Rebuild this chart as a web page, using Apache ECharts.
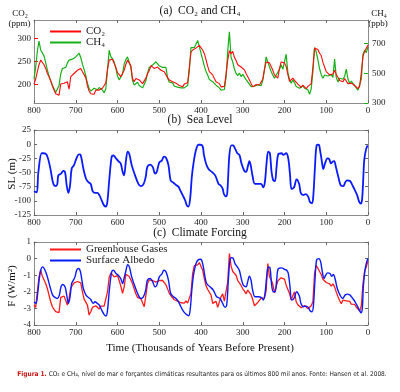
<!DOCTYPE html>
<html><head><meta charset="utf-8">
<script src="https://cdn.jsdelivr.net/npm/echarts@6/dist/echarts.min.js"></script>
<style>html,body{margin:0;padding:0;background:#fff}#c{width:400px;height:392px}</style>
</head><body><div id="c"></div>
<script>
// ---------- data ----------
const xTicks = [800,700,600,500,400,300,200,100,0];
const co2Ticks = [200,250,300];
const ch4Ticks = [300,500,700];
// noisy records sampled every 4 kyr, from 800 kyr BP to present
const ageGrid = [];
for (let a = 800; a >= 0; a -= 4) ageGrid.push(a);

const co2 = [201,212,228,243,253,251,243,235,224,217,
208,197,188,180,177,177,201,197,203,202,
206,190,217,220,224,228,231,235,235,228,
225,215,197,186,180,177,179,188,188,188,
192,192,193,204,233,253,256,255,246,237,
226,230,217,219,231,244,253,254,241,213,
206,213,214,210,206,202,206,214,224,230,
241,239,235,239,238,235,231,230,228,228,
215,210,206,206,204,203,201,198,197,195,
201,202,204,237,270,275,275,279,282,285,
286,275,267,254,240,228,229,221,213,206,
207,202,195,191,196,222,253,273,267,272,
259,252,243,243,238,240,232,224,220,210,
202,195,196,200,204,199,200,212,233,249,
246,247,239,231,221,225,214,235,249,246,
247,239,222,207,210,214,209,205,201,198,
194,199,198,191,196,194,202,237,279,276,
276,268,263,248,238,228,229,221,225,223,
231,222,216,209,210,206,213,209,202,198,
203,202,198,194,191,196,226,262,272,279,
286];

const ch4 = [462,540,651,718,658,647,618,573,522,482,
451,420,396,371,371,418,496,533,540,540,
571,589,602,596,596,611,611,636,607,562,
527,484,433,398,380,380,400,398,389,404,
407,387,369,396,518,656,613,598,576,536,
482,456,462,496,562,593,611,611,540,451,
422,433,440,418,407,402,411,451,502,540,
547,556,569,578,584,551,549,540,544,540,
469,440,438,436,413,411,407,400,402,402,
402,402,418,518,673,678,673,696,722,713,
636,593,549,513,489,458,460,444,431,420,
427,402,387,376,391,473,650,780,607,578,
529,500,484,502,478,493,487,458,442,431,
411,398,413,409,424,411,416,453,524,611,
576,544,513,489,467,489,478,527,558,527,
536,629,507,460,433,456,436,411,416,400,
404,416,400,404,389,358,396,513,673,644,
593,531,491,467,489,478,482,476,491,473,
596,473,442,467,456,460,480,529,462,433,
447,433,420,402,387,393,462,629,656,640,
678];

const ghg = [-2.8,-2.94,-2.0,-1.1,-0.7,-1.06,-1.1,-1.5,-1.8,-2.2,
-2.6,-2.9,-3.06,-3.2,-3.3,-3.26,-2.34,-2.3,-2.26,-2.34,
-2.8,-2.4,-1.76,-1.62,-1.46,-1.36,-1.38,-1.42,-1.46,-2.0,
-2.44,-2.54,-2.8,-3.4,-3.2,-2.94,-3.06,-2.84,-2.94,-3.04,
-2.86,-2.9,-2.86,-2.76,-2.0,-1.14,-0.86,-0.88,-1.1,-1.14,
-1.02,-1.32,-1.66,-2.1,-1.7,-0.94,-0.88,-1.08,-1.28,-1.52,
-1.82,-2.12,-2.34,-2.36,-2.42,-2.38,-2.9,-2.2,-1.5,-1.28,
-1.32,-1.32,-1.32,-1.42,-1.34,-1.32,-1.28,-1.32,-1.4,-1.58,
-1.64,-2.08,-2.24,-2.36,-2.48,-2.54,-2.56,-2.58,-2.66,-2.7,
-2.68,-2.54,-2.68,-2.72,-2.08,-0.9,-0.42,-0.38,-0.38,-0.24,
-0.2,-0.7,-1.2,-1.64,-1.86,-1.96,-2.18,-2.7,-2.6,-2.58,
-2.94,-2.92,-2.3,-2.12,-2.56,-2.62,-1.4,0.3,-0.44,-0.78,
-0.78,-1.0,-1.32,-1.46,-1.62,-1.82,-1.96,-2.12,-1.9,-1.88,
-2.18,-2.48,-2.84,-2.82,-2.64,-2.54,-2.38,-2.42,-2.38,-1.94,
-0.3,-1.1,-1.26,-1.54,-2.06,-1.94,-1.34,-1.28,-1.16,-1.18,
-1.24,-1.6,-1.5,-2.1,-2.48,-2.4,-2.0,-2.6,-2.78,-2.8,
-2.96,-2.92,-2.82,-2.82,-3.02,-2.92,-2.84,-2.6,-0.9,-0.4,
-0.58,-0.78,-0.96,-1.24,-1.32,-1.44,-1.48,-1.52,-1.66,-1.52,
-1.7,-2.02,-2.28,-2.52,-2.72,-2.5,-2.48,-2.54,-2.62,-2.58,
-2.74,-2.78,-2.76,-2.92,-3.04,-3.16,-2.84,-1.5,-0.74,-0.5,
-0.14];

const slAges = [800,793.6,789.6,781.6,777.6,769.6,761.6,753.7,747.3,744.1,
741.7,735.3,729.7,725.7,721.6,717.7,713.7,709.7,704.2,697.8,
692.2,688.2,681.8,675.4,669.8,664.2,659.5,653.9,648.3,643.5,
637.9,632.3,627.5,624.3,619.5,613.9,609.9,603.6,598,592.4,
587.6,584.4,579.6,575.6,571.6,566,558,550,544.5,538,
532.5,528.5,522,515.7,510,506,499.8,494,488.6,483.8,
478,472.6,466,459.8,454,450,443.9,438,434,430,
426,422,418,411.9,406,
402,396,393,388,382,374,366,358,353,348,
345,340,337,332,327,323,319,313,308,303,
297,292,288,284,281,276,271,263,256,251,
247,243,239,235,231,227,223,219,215,207,
203,196,191,187,183,177,171,165,161,155,
149,143,139,134,131,127,123,118,115,111,
107,103,97,93,89,85,81,77,71,65,
59,55,50,43,37,31,26,21,17,14,
11,9,5,1];
const slValues = [-83,-85,-50,-16,-16,-19,-40,-70,-74,-70,
-55,-52,-47,-49,-73,-86,-73,-43,-37,-24,
-18,-19,-43,-61,-67,-70,-83,-86,-86,-90,
-99,-108,-110,-102,-61,-22,-20,-25,-30,-34,
-49,-55,-28,-13,-18,-37,-55,-70,-74,-71,
-58,-40,-36,-40,-52,-49,-32,-29,-22,-24,
-37,-64,-68,-72,-75,-81,-90,-99,-108,-110,
-96,-58,-34,-10,-1,
-1,-4,-19,-34,-44,-49,-55,-70,-73,-79,
-88,-92,-85,-19,-2,-2,-7,-16,-19,-34,
-46,-49,-40,-30,-37,-58,-70,-70,-70,-76,
-67,-34,-13,-16,-49,-64,-65,-40,-18,-16,
-19,-16,-25,-52,-79,-76,-62,-70,-86,-90,
-88,-93,-102,-104,-91,-40,-2,-1,-10,-28,
-44,-34,-25,-26,-34,-31,-30,-40,-58,-73,
-74,-68,-64,-65,-73,-82,-90,-102,-105,-96,
-55,-28,-10,-2];

const albAges = [800,795.2,791.2,787.2,784,779.2,773.6,768,761.6,755.3,
749.7,744.1,739.3,735.3,731.3,725.7,721.6,717.7,713.7,709.7,
705.7,701.8,697.8,693.8,689.8,685.8,681.8,675.4,669.8,664.2,
657.9,653.9,648.3,643.5,637.9,632.3,627.5,624.3,619.5,613.9,
609.9,603.6,598,592.4,587.6,584.4,579.6,575.6,571.6,566,
558,550,544.5,538,532.5,528.5,522,515.7,510,506,
499.8,494,488.6,483.8,478,472.6,466,459.8,454,450,
443.9,438,432.7,429.5,426,422,418,411.9,406,
402,398.4,394.4,390.4,386.4,378.4,370.5,362.5,354.5,348.1,
342.5,338.5,334.5,330.5,326.6,322.6,318.6,313,308.2,302.6,
298.6,292.2,288.2,284.2,280.2,276.3,270.7,262.7,254.7,250.7,
246.7,242.7,238.7,234.7,230.7,226.8,222.8,218.8,214.8,206.8,
198.8,194.8,190.8,186.8,182.8,177.3,170.9,164.5,160.5,154.9,
148.5,142.9,138.9,134.1,131,127,123,117.4,113.4,109.4,
105.4,101.4,96.6,91,87,83,79,73.5,67,60.7,
55,49.5,43,36.7,31,25.5,20.8,16.8,13.6,11.2,
7.2,3.2,0];
const albValues = [-2.6,-2.7,-2.1,-1.2,-0.7,-0.5,-0.7,-1.1,-1.7,-2.2,
-2.34,-2.4,-2.2,-1.7,-1.56,-1.7,-2.2,-2.7,-2.3,-1.5,
-1.3,-1.1,-0.7,-0.6,-0.7,-1.2,-1.8,-2.2,-2.34,-2.46,
-2.7,-2.6,-2.7,-2.8,-3.1,-3.36,-3.46,-3.2,-1.9,-0.8,
-0.7,-0.9,-1.0,-1.2,-1.5,-1.2,-0.7,-0.36,-0.5,-1.1,
-1.7,-2.2,-2.4,-2.3,-1.9,-1.3,-1.2,-1.4,-1.7,-1.6,
-1.1,-0.94,-0.7,-0.8,-1.3,-2.1,-2.3,-2.4,-2.6,-2.8,
-3.1,-3.3,-3.4,-3.44,-3.1,-1.9,-1.0,-0.3,-0.06,
-0.04,-0.1,-0.5,-1.1,-1.5,-1.7,-1.9,-2.3,-2.4,-2.7,
-2.94,-2.8,-1.3,-0.1,0.06,0,-0.3,-0.5,-0.7,-1.3,
-1.6,-1.7,-1.4,-1.06,-1.3,-1.9,-2.3,-2.3,-2.36,-2.5,
-2.1,-1.1,-0.5,-0.56,-1.6,-2.0,-2.0,-1.3,-0.6,-0.56,
-0.66,-0.7,-0.9,-1.7,-2.5,-2.4,-2.0,-2.26,-2.7,-2.9,
-2.86,-2.94,-3.14,-3.2,-2.9,-1.3,-0.06,0,-0.2,-0.8,
-1.2,-1.0,-0.86,-0.9,-1.06,-0.96,-1.2,-1.8,-2.2,-2.4,
-2.2,-2.14,-2.2,-2.4,-2.6,-2.86,-3.1,-3.26,-3.0,-1.7,
-0.7,-0.2,0];

// ---------- chart ----------
const SERIF = '"Liberation Serif","DejaVu Serif",serif';
const NARROW = '"Liberation Sans Narrow","DejaVu Sans Condensed","Liberation Sans",sans-serif';
const pair = (xs, ys) => xs.map((x, i) => [x, ys[i]]);

function xAx(gridIndex, top) {
  return {
    type: 'value', gridIndex, position: top ? 'top' : 'bottom', inverse: true,
    min: 0, max: 800, interval: 100,
    axisLine: { show: true, onZero: false, lineStyle: { color: '#8c8c8c', width: 1 } },
    axisTick: { show: true, inside: true, length: 3, lineStyle: { color: '#666' } },
    axisLabel: { show: !top, margin: 3, fontFamily: SERIF, fontSize: 9, color: '#222' },
    splitLine: { show: false }
  };
}
function yAx(gridIndex, right, min, max, opts) {
  const o = {
    type: 'value', gridIndex, position: right ? 'right' : 'left', min, max,
    axisLine: { show: true, onZero: false, lineStyle: { color: '#8c8c8c', width: 1 } },
    axisTick: { show: true, inside: true, length: 3, lineStyle: { color: '#666' } },
    axisLabel: { show: true, margin: 3, fontFamily: SERIF, fontSize: 9, color: '#222' },
    splitLine: { show: false }
  };
  return Object.assign(o, opts || {});
}

const chart = echarts.init(document.getElementById('c'), null, { renderer: 'canvas' });
chart.setOption({
  animation: false,
  backgroundColor: '#fff',
  grid: [
    { left: 34, right: 32, top: 20, height: 83 },
    { left: 34, right: 32, top: 130, height: 85 },
    { left: 34, right: 32, top: 242, height: 83 }
  ],
  xAxis: [xAx(0, false), xAx(0, true), xAx(1, false), xAx(1, true), xAx(2, false), xAx(2, true)],
  yAxis: [
    yAx(0, false, 160, 340, {
      axisTick: { show: true, inside: true, length: 4, customValues: co2Ticks, lineStyle: { color: '#ff0000' } },
      axisLabel: { show: true, margin: 3, fontFamily: SERIF, fontSize: 9, color: '#222', customValues: co2Ticks }
    }),
    yAx(0, true, 300, 860, {
      axisTick: { show: true, inside: true, length: 4, customValues: ch4Ticks, lineStyle: { color: '#1aaa1a' } },
      axisLabel: { show: true, margin: 4, fontFamily: SERIF, fontSize: 9, color: '#222', customValues: ch4Ticks }
    }),
    yAx(1, false, -125, 25, { interval: 25 }),
    yAx(1, true, -125, 25, { interval: 25, axisLabel: { show: false } }),
    yAx(2, false, -4, 1, { interval: 1 }),
    yAx(2, true, -4, 1, { interval: 1, axisLabel: { show: false } })
  ],
  legend: [
    { data: ['CO₂', 'CH₄'], orient: 'vertical', left: 50, top: 26, itemGap: 0, padding: 0,
      itemWidth: 31, itemHeight: 2, icon: 'rect',
      textStyle: { fontFamily: SERIF, fontSize: 11, color: '#222', lineHeight: 10 } },
    { data: ['Greenhouse Gases', 'Surface Albedo'], orient: 'vertical', left: 50, top: 244, itemGap: 0, padding: 0,
      itemWidth: 31, itemHeight: 2, icon: 'rect',
      textStyle: { fontFamily: SERIF, fontSize: 11, color: '#222', lineHeight: 10 } }
  ],
  series: [
    { name: 'CH₄', type: 'line', xAxisIndex: 0, yAxisIndex: 1, showSymbol: false,
      data: pair(ageGrid, ch4), lineStyle: { color: '#16b016', width: 1.2 }, itemStyle: { color: '#16b016' } },
    { name: 'CO₂', type: 'line', xAxisIndex: 0, yAxisIndex: 0, showSymbol: false,
      data: pair(ageGrid, co2), lineStyle: { color: '#ff0a0a', width: 1.1 }, itemStyle: { color: '#ff0a0a' } },
    { name: 'SL', type: 'line', xAxisIndex: 2, yAxisIndex: 2, showSymbol: false, smooth: 0.35,
      data: pair(slAges, slValues), lineStyle: { color: '#0a1aff', width: 1.8 } },
    { name: 'Greenhouse Gases', type: 'line', xAxisIndex: 4, yAxisIndex: 4, showSymbol: false,
      data: pair(ageGrid, ghg), lineStyle: { color: '#ff1a1a', width: 1.3 }, itemStyle: { color: '#ff1a1a' } },
    { name: 'Surface Albedo', type: 'line', xAxisIndex: 4, yAxisIndex: 4, showSymbol: false, smooth: 0.35,
      data: pair(albAges, albValues), lineStyle: { color: '#0a1aff', width: 1.4 }, itemStyle: { color: '#0a1aff' } }
  ],
  graphic: [
    { type: 'text', x: 200, y: 11, style: { text: '(a)  CO₂ and CH₄', font: '11.5px ' + SERIF, fill: '#111', align: 'center', verticalAlign: 'middle' } },
    { type: 'text', x: 200, y: 120, style: { text: '(b)  Sea Level', font: '11.5px ' + SERIF, fill: '#111', align: 'center', verticalAlign: 'middle' } },
    { type: 'text', x: 200, y: 233, style: { text: '(c)  Climate Forcing', font: '11.5px ' + SERIF, fill: '#111', align: 'center', verticalAlign: 'middle' } },
    { type: 'text', x: 20, y: 14, style: { text: 'CO₂', font: '9px ' + SERIF, fill: '#111', align: 'center', verticalAlign: 'middle' } },
    { type: 'text', x: 19.5, y: 24, style: { text: '(ppm)', font: '9px ' + SERIF, fill: '#111', align: 'center', verticalAlign: 'middle' } },
    { type: 'text', x: 379, y: 14, style: { text: 'CH₄', font: '9px ' + SERIF, fill: '#111', align: 'center', verticalAlign: 'middle' } },
    { type: 'text', x: 378, y: 24, style: { text: '(ppb)', font: '9px ' + SERIF, fill: '#111', align: 'center', verticalAlign: 'middle' } },
    { type: 'text', x: 12, y: 174, rotation: Math.PI / 2, style: { text: 'SL (m)', font: '11px ' + SERIF, fill: '#111', align: 'center', verticalAlign: 'middle' } },
    { type: 'text', x: 12, y: 286, rotation: Math.PI / 2, style: { text: 'F (W/m²)', font: '11px ' + SERIF, fill: '#111', align: 'center', verticalAlign: 'middle' } },
    { type: 'text', x: 200, y: 348, style: { text: 'Time (Thousands of Years Before Present)', font: '11px ' + SERIF, fill: '#111', align: 'center', verticalAlign: 'middle' } },
    { type: 'text', x: 202, y: 374, style: {
        text: '{r|Figura 1.} {t|CO₂ e CH₄, nível do mar e forçantes climáticas resultantes para os últimos 800 mil anos. Fonte: Hansen et al. 2008.}',
        fontSize: 6.5, fontFamily: NARROW, fill: '#222', align: 'center', verticalAlign: 'middle',
        rich: {
          r: { fill: '#cc1111', fontWeight: 'bold', fontSize: 6.5, fontFamily: NARROW },
          t: { fill: '#222', fontSize: 6.5, fontFamily: NARROW }
        } } }
  ]
});
</script></body></html>
